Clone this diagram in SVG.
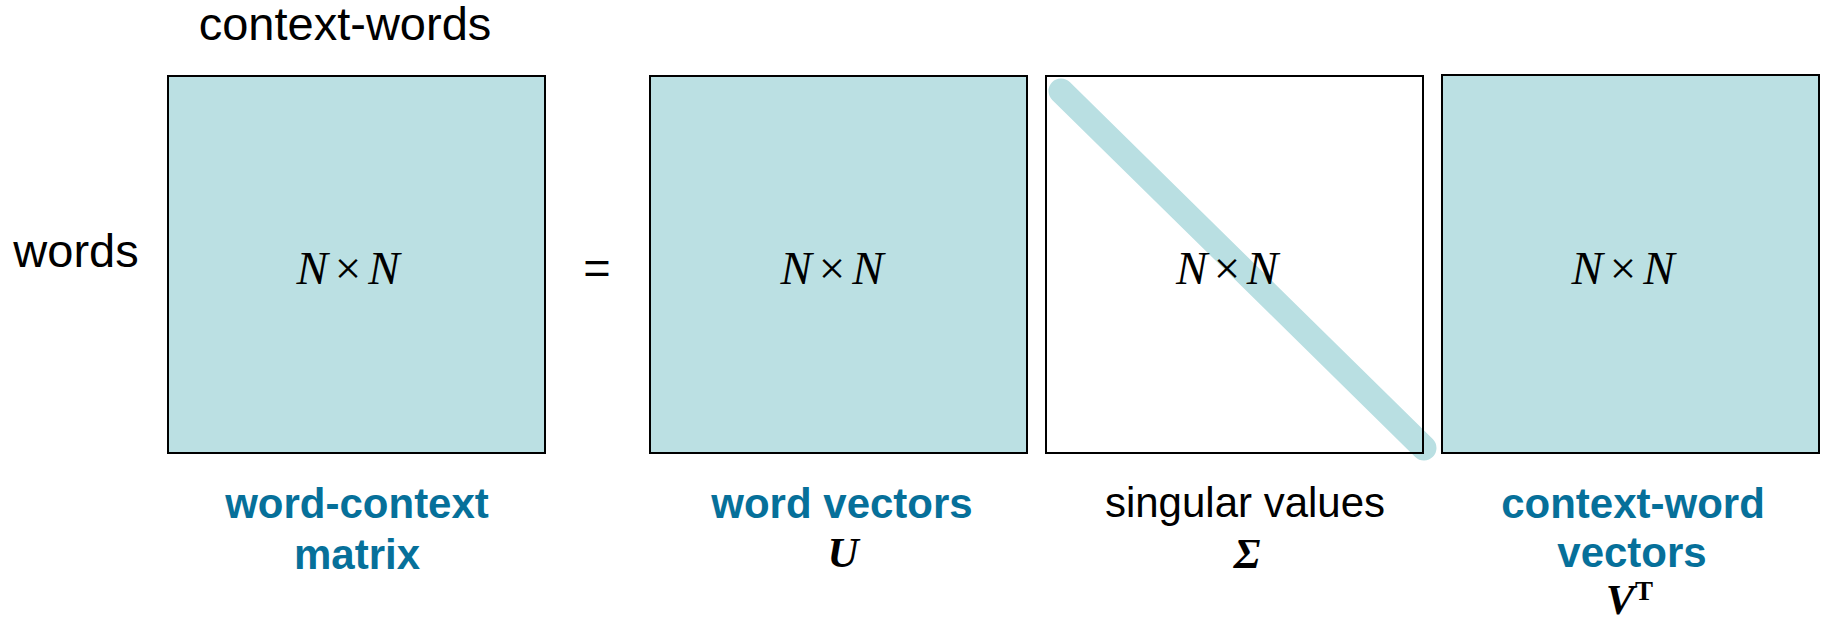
<svg xmlns="http://www.w3.org/2000/svg" width="1827" height="621" viewBox="0 0 1827 621">
<style>
.box{fill:#BBE0E3;stroke:#000;stroke-width:2}
.sans{font-family:"Liberation Sans",Arial,sans-serif;fill:#000}
.lbl{font-family:"Liberation Sans",Arial,sans-serif;font-size:42px;text-anchor:middle}
.blue{fill:#06709A;font-weight:bold}
.math{font-family:"Liberation Serif","Times New Roman",serif;font-size:47px;text-anchor:middle;fill:#000}
.mb{font-family:"Liberation Serif","Times New Roman",serif;font-weight:bold;font-style:italic;font-size:43px;text-anchor:middle;fill:#000}
</style>
<rect width="1827" height="621" fill="#fff"/>
<g id="axis-labels">
<text class="sans" x="345" y="40" font-size="47" text-anchor="middle">context-words</text>
<text class="sans" x="76" y="267" font-size="47" text-anchor="middle">words</text>
</g>
<g id="matrix-a">
<rect class="box" x="168" y="76" width="377" height="377"/>
<text class="math" x="348" y="284" textLength="103" lengthAdjust="spacing"><tspan font-style="italic">N</tspan>×<tspan font-style="italic">N</tspan></text>
<text class="lbl blue" x="357" y="518">word-context</text>
<text class="lbl blue" x="357" y="569">matrix</text>
</g>
<g id="equals">
<text class="sans" x="597" y="284" font-size="47" text-anchor="middle">=</text>
</g>
<g id="matrix-u">
<rect class="box" x="650" y="76" width="377" height="377"/>
<text class="math" x="832" y="284" textLength="103" lengthAdjust="spacing"><tspan font-style="italic">N</tspan>×<tspan font-style="italic">N</tspan></text>
<text class="lbl blue" x="842" y="518">word vectors</text>
<text class="mb" x="843" y="567">U</text>
</g>
<g id="matrix-sigma">
<rect x="1046" y="76" width="377" height="377" fill="#fff"/>
<line x1="1061" y1="91" x2="1424" y2="448" stroke="#B9DFE2" stroke-width="25" stroke-linecap="round"/>
<rect x="1046" y="76" width="377" height="377" fill="none" stroke="#000" stroke-width="2"/>
<text class="math" x="1227" y="284" textLength="102" lengthAdjust="spacing"><tspan font-style="italic">N</tspan>×<tspan font-style="italic">N</tspan></text>
<text class="lbl sans" x="1245" y="517">singular values</text>
<text class="mb" x="1247" y="568">Σ</text>
</g>
<g id="matrix-vt">
<rect class="box" x="1442" y="75" width="377" height="378"/>
<text class="math" x="1623" y="284" textLength="103" lengthAdjust="spacing"><tspan font-style="italic">N</tspan>×<tspan font-style="italic">N</tspan></text>
<text class="lbl blue" x="1633" y="518">context-word</text>
<text class="lbl blue" x="1632" y="567">vectors</text>
<text class="mb" x="1620" y="614">V</text>
<text x="1635" y="600" font-family="'Liberation Serif','Times New Roman',serif" font-weight="bold" font-size="27" text-anchor="start">T</text>
</g>
<g id="connectors"></g>
</svg>
